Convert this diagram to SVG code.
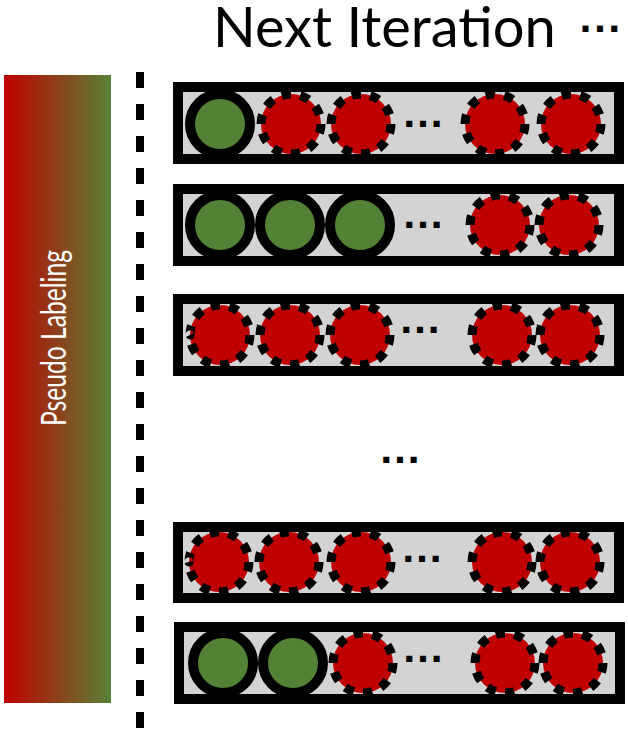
<svg xmlns="http://www.w3.org/2000/svg" width="628" height="731" viewBox="0 0 628 731">
<defs>
<linearGradient id="grad" x1="0" y1="0" x2="1" y2="0">
<stop offset="0" stop-color="#C00000"/>
<stop offset="1" stop-color="#588236"/>
</linearGradient>
<style>
.box{fill:#D3D3D3;stroke:#000;stroke-width:10}
.pos{fill:#538135;stroke:#000;stroke-width:10}
.neg{fill:#C00000;stroke:#000;stroke-width:9;stroke-dasharray:5 5}
.dots{font-family:"Liberation Sans",Arial,sans-serif;font-size:43px;font-weight:bold;fill:#000;text-anchor:middle}
.title{font-family:Lato,"Open Sans",sans-serif;font-size:56px;fill:#000}
.label{font-family:Lato,"Open Sans",sans-serif;font-size:35px;fill:#fff;text-anchor:middle}
</style>
</defs>
<rect width="628" height="731" fill="#fff"/>
<g id="title"><text class="title" x="213" y="47">Next Iteration <tspan x="579" dy="-6" font-family="'DejaVu Sans',sans-serif" font-weight="bold" font-size="34" letter-spacing="1.5">···</tspan></text></g>
<g id="pseudo-labeling">
<rect x="4" y="75" width="107" height="628" fill="url(#grad)"/>
<text class="label" transform="translate(66,338) rotate(-90)" x="0" y="0" textLength="176" lengthAdjust="spacingAndGlyphs">Pseudo Labeling</text>
</g>
<g id="connectors">
<line x1="140" y1="72" x2="140" y2="731" stroke="#000" stroke-width="8" stroke-dasharray="16 16"/>
</g>
<g id="row1">
<rect class="box" x="178" y="87" width="441" height="72"/>
<circle class="pos" cx="220" cy="124" r="30"/>
<circle class="neg" cx="291" cy="124" r="30" pathLength="100"/>
<circle class="neg" cx="361" cy="124" r="30" pathLength="100"/>
<text class="dots" x="423" y="127">…</text>
<circle class="neg" cx="495" cy="124" r="30" pathLength="100"/>
<circle class="neg" cx="571" cy="124" r="30" pathLength="100"/>
</g>
<g id="row2">
<rect class="box" x="178" y="189" width="441" height="72"/>
<circle class="pos" cx="220" cy="225" r="30"/>
<circle class="pos" cx="290" cy="225" r="30"/>
<circle class="pos" cx="360" cy="225" r="30"/>
<text class="dots" x="423" y="228">…</text>
<circle class="neg" cx="500" cy="225" r="30" pathLength="100"/>
<circle class="neg" cx="569" cy="225" r="30" pathLength="100"/>
</g>
<g id="row3">
<rect class="box" x="178" y="299" width="441" height="72"/>
<circle class="neg" cx="220" cy="335" r="30" pathLength="100"/>
<circle class="neg" cx="290" cy="335" r="30" pathLength="100"/>
<circle class="neg" cx="360" cy="335" r="30" pathLength="100"/>
<text class="dots" x="420" y="333">…</text>
<circle class="neg" cx="502" cy="335" r="30" pathLength="100"/>
<circle class="neg" cx="570" cy="335" r="30" pathLength="100"/>
</g>
<g id="ellipsis"><text class="dots" x="400" y="463">…</text></g>
<g id="row5">
<rect class="box" x="178" y="527" width="441" height="71"/>
<circle class="neg" cx="219" cy="562" r="30" pathLength="100"/>
<circle class="neg" cx="289" cy="562" r="30" pathLength="100"/>
<circle class="neg" cx="361" cy="562" r="30" pathLength="100"/>
<text class="dots" x="422" y="562">…</text>
<circle class="neg" cx="502" cy="562" r="30" pathLength="100"/>
<circle class="neg" cx="570" cy="562" r="30" pathLength="100"/>
</g>
<g id="row6">
<rect class="box" x="179" y="627" width="441" height="72"/>
<circle class="pos" cx="223" cy="663" r="30"/>
<circle class="pos" cx="293" cy="663" r="30"/>
<circle class="neg" cx="363" cy="663" r="30" pathLength="100"/>
<text class="dots" x="423" y="662">…</text>
<circle class="neg" cx="505" cy="663" r="30" pathLength="100"/>
<circle class="neg" cx="573" cy="663" r="30" pathLength="100"/>
</g>
</svg>
